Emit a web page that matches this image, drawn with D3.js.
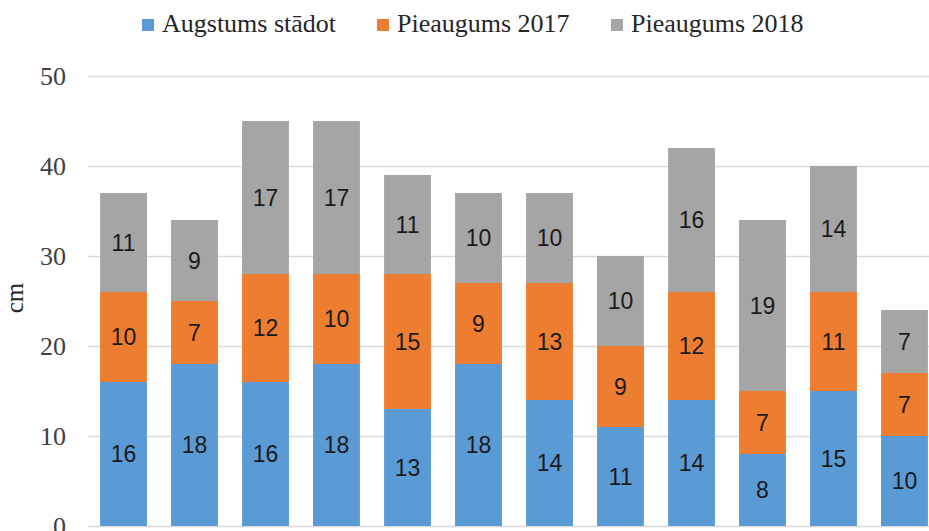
<!DOCTYPE html>
<meta charset="utf-8">
<style>
body { margin: 0; background: #fff; }
.grid line { stroke: #d9d9d9; stroke-width: 1.5px; }
.grid path { display: none; }
</style>
<body>
<script src="https://d3js.org/d3.v7.min.js"></script>
<script>

// data
var categories = ["1", "2", "3", "4", "5", "6", "7", "8", "9", "10", "11", "12"];
var seriesNames = ["Augstums stādot", "Pieaugums 2017", "Pieaugums 2018"];
var augstums = [16, 18, 16, 18, 13, 18, 14, 11, 14, 8, 15, 10];
var pieaugums2017 = [10, 7, 12, 10, 15, 9, 13, 9, 12, 7, 11, 7];
var pieaugums2018 = [11, 9, 17, 17, 11, 10, 10, 10, 16, 19, 14, 7];
var yTicks = [0, 10, 20, 30, 40, 50];
var colors = ["#5b9bd5", "#ed7d31", "#a5a5a5"];

var width = 929, height = 531;

var svg = d3.select("body").append("svg")
    .attr("width", width)
    .attr("height", height);

// table for the stack
var table = categories.map(function(c, i) {
  return { cat: c, a: augstums[i], b: pieaugums2017[i], c: pieaugums2018[i] };
});
var stacked = d3.stack().keys(["a", "b", "c"])(table);

// scales (the plot runs past the right edge, as in the reference)
var x = d3.scaleBand().domain(categories).range([88, 940]).paddingInner(0.34).paddingOuter(0.17);
var y = d3.scaleLinear().domain([0, 50]).range([526, 76]);

// gridlines
svg.append("g")
    .attr("class", "grid")
    .attr("transform", "translate(88,0)")
    .call(d3.axisLeft(y).tickValues(yTicks).tickSize(-900).tickFormat(""));

// y tick labels
svg.append("g").selectAll("text")
    .data(yTicks)
  .enter().append("text")
    .attr("x", 66)
    .attr("y", function(d) { return y(d); })
    .attr("dy", "0.35em")
    .attr("text-anchor", "end")
    .attr("font-family", "Liberation Serif")
    .attr("font-size", 26)
    .attr("fill", "#404040")
    .text(function(d) { return d; });

// y axis title
svg.append("text")
    .attr("transform", "translate(23,298) rotate(-90)")
    .attr("text-anchor", "middle")
    .attr("font-family", "Liberation Serif")
    .attr("font-size", 25)
    .attr("fill", "#262626")
    .text("cm");

// bars
var layer = svg.selectAll(".layer")
    .data(stacked)
  .enter().append("g")
    .attr("class", "layer")
    .attr("fill", function(d, i) { return colors[i]; });

layer.selectAll("rect")
    .data(function(d) { return d; })
  .enter().append("rect")
    .attr("x", function(d) { return x(d.data.cat); })
    .attr("width", x.bandwidth())
    .attr("y", function(d) { return y(d[1]); })
    .attr("height", function(d) { return y(d[0]) - y(d[1]); });

// value labels
layer.selectAll("text")
    .data(function(d) { return d; })
  .enter().append("text")
    .attr("x", function(d) { return x(d.data.cat) + x.bandwidth() / 2; })
    .attr("y", function(d) { return (y(d[0]) + y(d[1])) / 2; })
    .attr("dy", "0.36em")
    .attr("text-anchor", "middle")
    .attr("font-family", "Liberation Sans")
    .attr("font-size", 23)
    .attr("fill", "#1a1a1a")
    .text(function(d) { return d[1] - d[0]; });

// legend
var legendX = [142, 377, 611];
var legend = svg.selectAll(".legend")
    .data(seriesNames)
  .enter().append("g")
    .attr("class", "legend")
    .attr("transform", function(d, i) { return "translate(" + legendX[i] + ",0)"; });

legend.append("rect")
    .attr("y", 19)
    .attr("width", 12)
    .attr("height", 12)
    .attr("fill", function(d, i) { return colors[i]; });

legend.append("text")
    .attr("x", 20)
    .attr("y", 32)
    .attr("font-family", "Liberation Serif")
    .attr("font-size", 26)
    .attr("fill", "#262626")
    .text(function(d) { return d; });

</script>
</body>
